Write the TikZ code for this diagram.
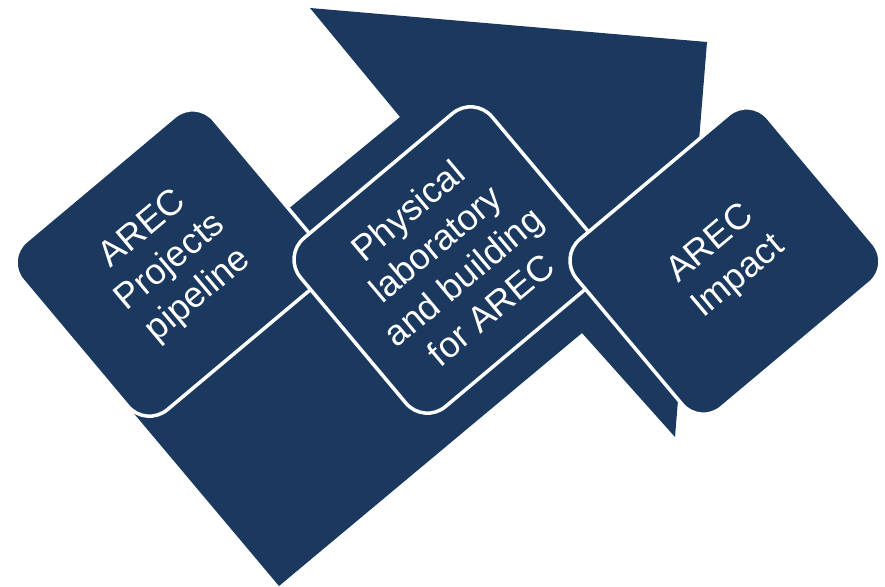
\documentclass[tikz,border=0pt]{standalone}
\usepackage{fontspec}
\setmainfont{Liberation Sans}
\usetikzlibrary{positioning}
\definecolor{arecblue}{RGB}{27,56,94}

\begin{document}
\begin{tikzpicture}[x=1pt, y=-1pt,
    % Define styles
    stagebox/.style={rectangle, draw=white, line width=3.5pt, fill=arecblue, rounded corners=28pt, minimum width=250pt, minimum height=220pt, inner sep=0pt, rotate=40, text=white, align=center, font=\fontsize{36}{43}\selectfont},
    bigarrow/.style={fill=arecblue}
  ]
  \useasboundingbox (0,0) rectangle (885,586);

  % Arrow behind the stages
  \fill[bigarrow] (310,8) -- (707,42) -- (675,437) -- (582,333) -- (279,586) -- (131,410) -- (200,330) -- (270,224) -- (400,117) -- cycle;

  % Stages
  \node[stagebox] (pipeline) at (171,263) {AREC\\Projects\\pipeline};
  \node[stagebox] (building) at (449,260) {Physical\\laboratory\\and building\\for AREC};
  \node[stagebox] (impact) at (725,261) {AREC\\Impact};

\end{tikzpicture}
\end{document}
